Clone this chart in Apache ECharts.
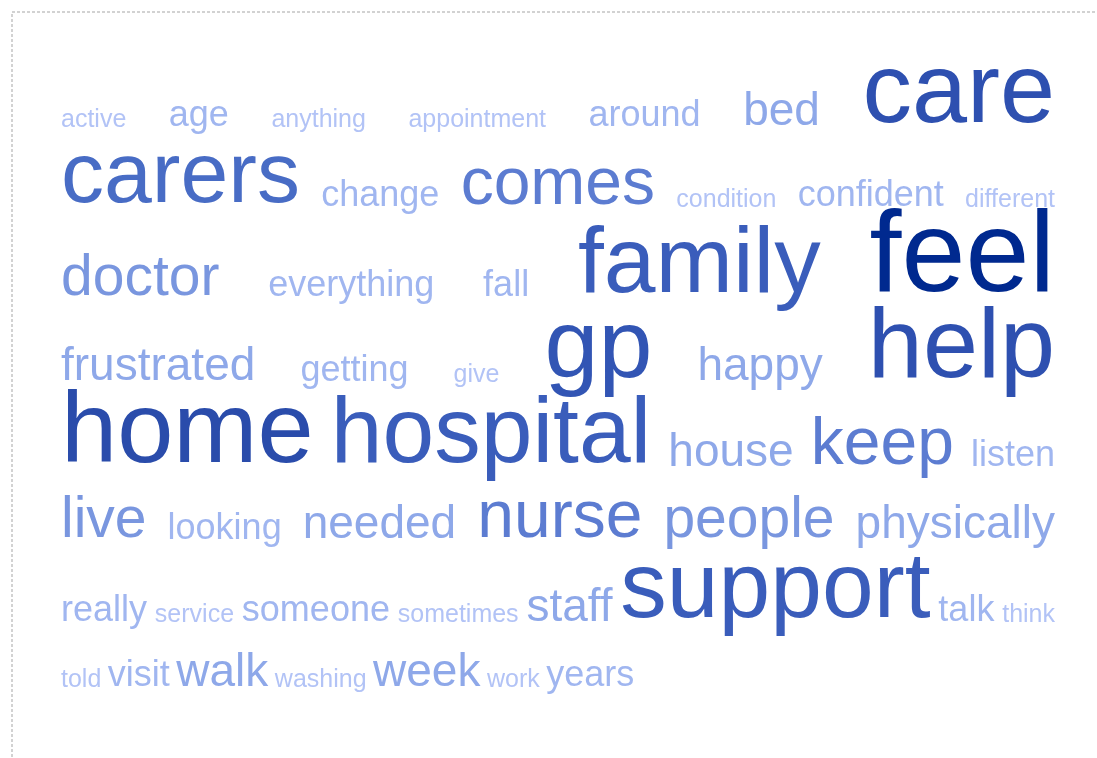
<!DOCTYPE html>
<html><head><meta charset="utf-8">
<script src="https://cdn.jsdelivr.net/npm/echarts@6/dist/echarts.min.js"></script>
<style>html,body{margin:0;padding:0;background:#fff}#c{width:1097px;height:758px}</style>
</head><body><div id="c"></div>
<script>
// ---- data ----
const words = [
  'active','age','anything','appointment','around','bed','care',
  'carers','change','comes','condition','confident','different',
  'doctor','everything','fall','family','feel',
  'frustrated','getting','give','gp','happy','help',
  'home','hospital','house','keep','listen',
  'live','looking','needed','nurse','people','physically',
  'really','service','someone','sometimes','staff','support','talk','think',
  'told','visit','walk','washing','week','work','years'
];
const counts = [
  10,21,10,10,21,31,84,
  71,21,51,10,21,10,
  42,21,21,78,100,
  31,21,10,82,31,84,
  86,78,31,51,21,
  42,21,31,51,42,31,
  21,10,21,10,31,78,21,10,
  10,21,31,10,31,10,21
];

// ---- styling / layout parameters ----
const FONT = '"Liberation Sans", Arial, sans-serif';
const minCount = 10, maxCount = 100, minFont = 25, maxFont = 115;
const colorStops = ['#b2c3f6','#a2b7f1','#8fa9ea','#809ce3','#5d7dd1','#5475cc','#4a6ec6','#3659b8','#2243a3','#00298f'];
const box = {left: 61, right: 1055, top: 44};
const minGap = 6.5, rowLead = 48, rowScale = 0.37;

function fontSize(c) { return minFont + (c - minCount) * (maxFont - minFont) / (maxCount - minCount); }
const mctx = document.createElement('canvas').getContext('2d');
function measure(w, s) { mctx.font = s + 'px ' + FONT; return mctx.measureText(w).width; }

// greedy row layout, justified except the last row
const W = box.right - box.left;
const items = words.map((w, i) => ({i, w, s: fontSize(counts[i]), width: measure(w, fontSize(counts[i]))}));
const rows = [];
let cur = [], curW = 0;
items.forEach(it => {
  if (cur.length && curW + minGap + it.width > W) { rows.push(cur); cur = []; curW = 0; }
  curW += (cur.length ? minGap : 0) + it.width;
  cur.push(it);
});
if (cur.length) rows.push(cur);

const data = [];
let baseline = box.top;
rows.forEach((row, r) => {
  const maxS = Math.max(...row.map(d => d.s));
  baseline += rowLead + rowScale * maxS;
  const sumW = row.reduce((a, d) => a + d.width, 0);
  const last = r === rows.length - 1;
  const gap = (last || row.length < 2) ? minGap : (W - sumW) / (row.length - 1);
  let x = box.left;
  row.forEach(d => {
    data.push({name: d.w, value: [x, baseline, counts[d.i], d.i]});
    x += d.width + gap;
  });
});

const chart = echarts.init(document.getElementById('c'), null, {renderer: 'canvas'});
chart.setOption({
  animation: false,
  backgroundColor: '#ffffff',
  grid: {left: 0, right: 0, top: 0, bottom: 0},
  xAxis: {type: 'value', min: 0, max: 1097, show: false},
  yAxis: {type: 'value', min: 0, max: 758, inverse: true, show: false},
  visualMap: {show: false, type: 'continuous', dimension: 2, min: minCount, max: maxCount, seriesIndex: 0,
    inRange: {color: colorStops}},
  graphic: [{type: 'rect', silent: true, shape: {x: 12, y: 12, width: 1300, height: 900},
    style: {fill: 'none', stroke: '#d2d2d2', lineWidth: 2, lineDash: [3, 2]}}],
  series: [{
    type: 'custom',
    coordinateSystem: 'cartesian2d',
    encode: {x: 0, y: 1},
    data: data,
    renderItem: function (params, api) {
      const p = api.coord([api.value(0), api.value(1)]);
      const idx = api.value(3);
      const s = fontSize(api.value(2));
      return {
        type: 'text',
        x: p[0],
        y: p[1] - 0.3465 * s,
        style: {text: words[idx], fontSize: s, fontFamily: FONT, fill: api.visual('color'),
          align: 'left', verticalAlign: 'middle'}
      };
    }
  }]
});
</script>
</body></html>
